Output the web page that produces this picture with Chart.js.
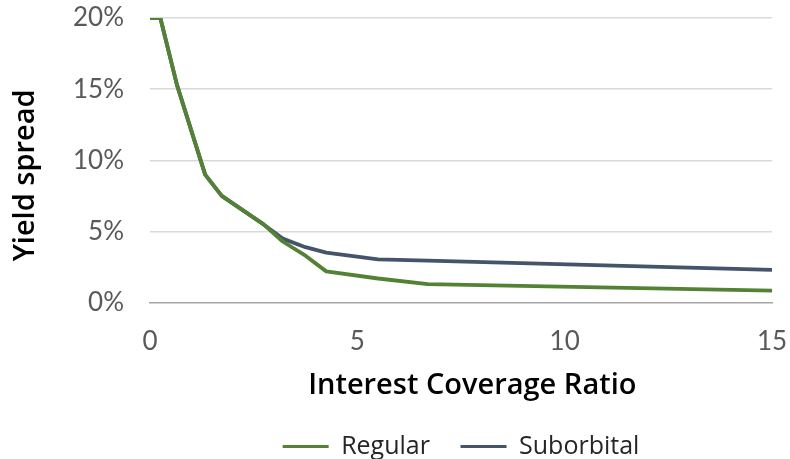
<!DOCTYPE html>
<html>
<head>
<meta charset="utf-8">
<script src="https://cdn.jsdelivr.net/npm/chart.js@4/dist/chart.umd.min.js"></script>
<style>
  html, body { margin: 0; padding: 0; background: #fff; }
  #wrap { width: 790px; height: 459px; }
</style>
</head>
<body>
<div id="wrap"><canvas id="c" width="790" height="459"></canvas></div>
<script>
// Interest coverage ratio (x) and yield spreads (fractions)
const coverage   = [0, 0.25, 0.65, 1.33, 1.73, 2.74, 3.2, 3.75, 4.25, 5.5, 6.7, 15];
const regular    = [0.20, 0.20, 0.153, 0.09, 0.075, 0.055, 0.043, 0.033, 0.022, 0.017, 0.013, 0.0085];
const suborbital = [0.20, 0.20, 0.153, 0.09, 0.075, 0.055, 0.045, 0.039, 0.0352, 0.0305, 0.0295, 0.023];
const seriesNames = ['Regular', 'Suborbital'];
const xTicks = [0, 5, 10, 15];
const yTicks = [0, 0.05, 0.10, 0.15, 0.20];
const xTitle = 'Interest Coverage Ratio';
const yTitle = 'Yield spread';

const toPts = arr => coverage.map((x, i) => ({ x: x, y: arr[i] }));
const NB = '\u00A0';

new Chart(document.getElementById('c'), {
  type: 'line',
  data: {
    datasets: [
      { label: seriesNames[0], data: toPts(regular), borderColor: '#548235', backgroundColor: '#548235',
        borderWidth: 3.8, pointRadius: 0, tension: 0, borderJoinStyle: 'round' },
      { label: seriesNames[1], data: toPts(suborbital), borderColor: '#44546A', backgroundColor: '#44546A',
        borderWidth: 3.8, pointRadius: 0, tension: 0, borderJoinStyle: 'round' }
    ]
  },
  options: {
    responsive: false,
    animation: false,
    layout: { padding: { left: 0, right: 18, top: 18, bottom: -10 } },
    plugins: {
      tooltip: { enabled: false },
      legend: {
        position: 'bottom',
        fullSize: false,
        labels: {
          boxWidth: 46, boxHeight: 3, padding: 30.6,
          font: { family: 'Open Sans', size: 25 }, color: '#262626',
          generateLabels: chart => Chart.defaults.plugins.legend.labels.generateLabels(chart)
            .map(l => Object.assign(l, { lineWidth: 0 }))
        }
      }
    },
    scales: {
      x: {
        type: 'linear', min: 0, max: 15,
        afterBuildTicks: s => { s.ticks = xTicks.map(v => ({ value: v })); },
        afterFit: s => { s.height = 100.7; s.paddingLeft = 0; s.paddingRight = 0; },
        grid: { display: false, drawTicks: false },
        border: { display: true, color: '#A6A6A6', width: 1.5 },
        ticks: { padding: 23, font: { family: 'Lato', size: 26 }, color: '#595959' },
        title: { display: true, text: NB.repeat(3) + xTitle, padding: { top: 0, bottom: 0 },
                 font: { family: 'Open Sans', size: 29, weight: 600 }, color: '#000' }
      },
      y: {
        min: 0, max: 0.20,
        afterBuildTicks: s => { s.ticks = yTicks.map(v => ({ value: v })); },
        afterFit: s => { s.width = 150; s.paddingTop = 0; s.paddingBottom = 0; },
        grid: { color: ctx => ctx.tick && ctx.tick.value === 0 ? 'rgba(0,0,0,0)' : '#D9D9D9', lineWidth: 1.5, drawTicks: false },
        border: { display: false },
        ticks: { padding: 26, font: { family: 'Lato', size: 26 }, color: '#595959',
                 callback: v => Math.round(v * 100) + '%' },
        title: { display: true, text: yTitle + NB.repeat(4), padding: { top: 8.6, bottom: 8.6 },
                 font: { family: 'Open Sans', size: 29, weight: 600 }, color: '#000' }
      }
    }
  }
});
</script>
</body>
</html>
